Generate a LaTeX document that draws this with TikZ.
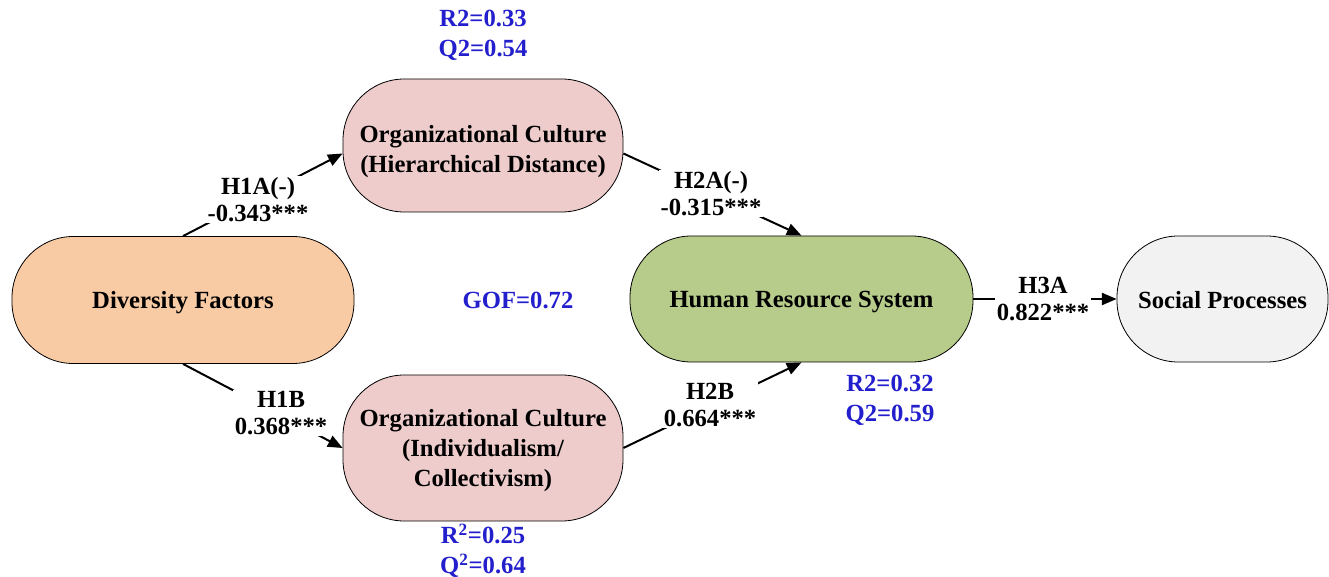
\documentclass[tikz,border=0pt]{standalone}
\usepackage{fontspec}
\setmainfont{Liberation Serif}
\usetikzlibrary{arrows.meta,calc}
\definecolor{bluetxt}{RGB}{35,31,205}
\definecolor{divfill}{RGB}{249,203,164}
\definecolor{orgfill}{RGB}{237,204,203}
\definecolor{hrsfill}{RGB}{183,203,138}
\definecolor{spfill}{RGB}{242,242,242}
\begin{document}
\begin{tikzpicture}[x=0.75pt,y=-0.75pt,
  box/.style={draw=black, line width=0.6pt, rounded corners=46pt, inner sep=0pt},
  boxtext/.style={align=center, font=\fontsize{18.5}{22.5}\selectfont\bfseries, inner sep=0pt},
  lab/.style={fill=white, align=center, font=\fontsize{18.5}{20.5}\selectfont\bfseries, inner sep=1pt},
  bluelab/.style={text=bluetxt, align=center, font=\fontsize{18.5}{22.5}\selectfont\bfseries, inner sep=0pt},
  arr/.style={line width=1.5pt, -{Triangle[length=11pt,width=9pt]}}
]
\useasboundingbox (0,0) rectangle (1329,577);

\node[box, fill=divfill, minimum width=256.5pt, minimum height=95.25pt] (div) at (183,300) {};
\node[box, fill=orgfill, minimum width=210pt, minimum height=99.75pt] (oa) at (483,145.5) {};
\node[box, fill=orgfill, minimum width=210pt, minimum height=109.5pt] (oc) at (483,448) {};
\node[box, fill=hrsfill, minimum width=257.25pt, minimum height=94.5pt] (hrs) at (801.5,299) {};
\node[box, fill=spfill, minimum width=158.25pt, minimum height=94.5pt] (sp) at (1222.5,299) {};

\node[boxtext] (divt) at (183,303) {Diversity Factors};
\node[boxtext] (oat) at (483,152) {Organizational Culture\\(Hierarchical Distance)};
\node[boxtext] (oct) at (483,451) {Organizational Culture\\(Individualism/\\Collectivism)};
\node[boxtext] (hrst) at (801.5,302) {Human Resource System};
\node[boxtext] (spt) at (1222.5,300) {Social Processes};

\draw[arr] (div.north) -- ($(oa.west)+(0,8)$);
\draw[arr] (div.south) -- (oc.west);
\draw[arr] ($(oa.east)+(0,8)$) -- (hrs.north);
\draw[arr] (oc.east) -- (hrs.south);
\draw[arr] (hrs.east) -- (sp.west);

\node[lab] (l1a) at (258,199.5) {H1A(-)\\-0.343***};
\node[lab] (l1b) at (281,413) {H1B\\0.368***};
\node[lab] (l2a) at (711,193.5) {H2A(-)\\-0.315***};
\node[lab] (l2b) at (710,405) {H2B\\0.664***};
\node[lab] (l3a) at (1043,299) {H3A\\0.822***};

\node[bluelab] (b1) at (483,35) {R2=0.33\\Q2=0.54};
\node[bluelab] (b2) at (518,300) {GOF=0.72};
\node[bluelab] (b3) at (890,400) {R2=0.32\\Q2=0.59};
\node[bluelab] (b4) at (483,551) {R\textsuperscript{2}=0.25\\Q\textsuperscript{2}=0.64};
\end{tikzpicture}
\end{document}
